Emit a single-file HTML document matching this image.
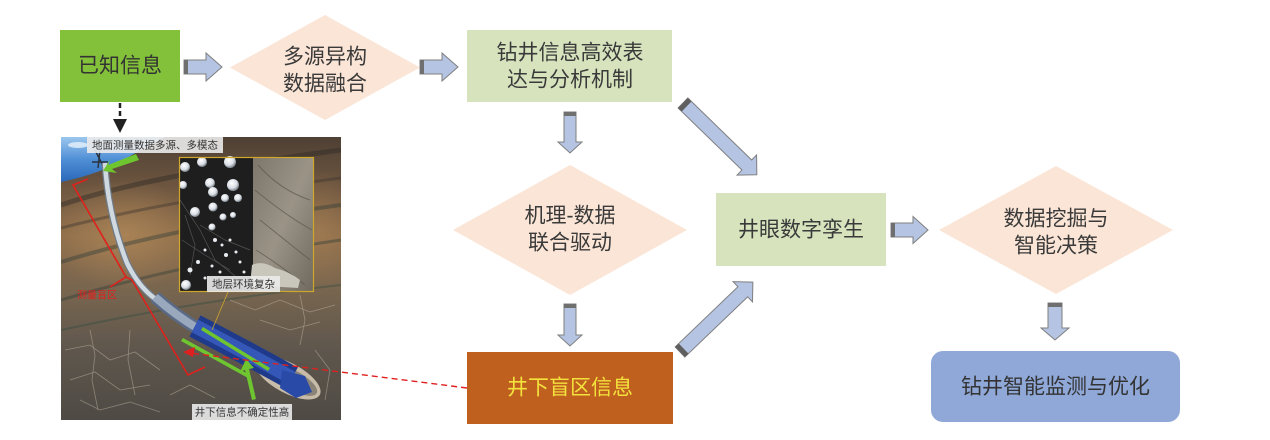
<!DOCTYPE html>
<html><head><meta charset="utf-8">
<style>
html,body{margin:0;padding:0;background:#fff;}
svg{display:block;}
text{font-family:"Liberation Sans","Noto Sans CJK SC",sans-serif;}
</style></head>
<body>
<svg width="1270" height="440" viewBox="0 0 1270 440" xmlns="http://www.w3.org/2000/svg">
<defs>
  <linearGradient id="earth" x1="0" y1="0" x2="0" y2="1">
    <stop offset="0" stop-color="#4e4034"/>
    <stop offset="0.18" stop-color="#6e5640"/>
    <stop offset="0.35" stop-color="#8c6c4a"/>
    <stop offset="0.55" stop-color="#77654f"/>
    <stop offset="0.75" stop-color="#5f574d"/>
    <stop offset="1" stop-color="#4e4a44"/>
  </linearGradient>
  <radialGradient id="tan" cx="0.5" cy="0.5" r="0.5">
    <stop offset="0" stop-color="#b08858" stop-opacity="0.8"/>
    <stop offset="1" stop-color="#b08858" stop-opacity="0"/>
  </radialGradient>
  <linearGradient id="sky" x1="0" y1="0" x2="0" y2="1">
    <stop offset="0" stop-color="#9cc6ee"/>
    <stop offset="0.5" stop-color="#4f8fd6"/>
    <stop offset="1" stop-color="#2a68b8"/>
  </linearGradient>
  <linearGradient id="rock" x1="0" y1="0" x2="1" y2="1">
    <stop offset="0" stop-color="#7d776c"/>
    <stop offset="0.5" stop-color="#9a9386"/>
    <stop offset="1" stop-color="#6f695f"/>
  </linearGradient>
  <radialGradient id="ball" cx="0.4" cy="0.35" r="0.6">
    <stop offset="0" stop-color="#ffffff"/>
    <stop offset="0.7" stop-color="#d8dde4"/>
    <stop offset="1" stop-color="#8a9098"/>
  </radialGradient>
  <clipPath id="imgclip"><rect x="61" y="137" width="280" height="283"/></clipPath>
</defs>

<!-- ===== Photo panel ===== -->
<g clip-path="url(#imgclip)">
  <rect x="61" y="137" width="280" height="283" fill="url(#earth)"/>
  <ellipse cx="125" cy="235" rx="80" ry="55" fill="url(#tan)"/>
  <ellipse cx="320" cy="230" rx="40" ry="60" fill="url(#tan)" opacity="0.6"/>
  <!-- strata bands -->
  <path d="M61,205 Q150,175 341,150" stroke="#2f2a26" stroke-width="5" fill="none" opacity="0.45"/>
  <path d="M61,228 Q170,200 341,178" stroke="#3a332c" stroke-width="3" fill="none" opacity="0.4"/>
  <path d="M61,262 Q170,228 341,205" stroke="#2a3a36" stroke-width="4" fill="none" opacity="0.4"/>
  <path d="M61,300 Q190,262 341,240" stroke="#2c3c38" stroke-width="3" fill="none" opacity="0.4"/>
  <path d="M61,330 Q200,300 341,285" stroke="#2f4a40" stroke-width="2" fill="none" opacity="0.4"/>
  <!-- cracks -->
  <g stroke="#cfc6b4" stroke-width="0.8" fill="none" opacity="0.45">
    <path d="M65,350 L90,345 L110,360 L135,352 L160,370"/>
    <path d="M70,380 L95,372 L120,390 L150,385"/>
    <path d="M80,400 L100,410 L130,402 L160,412"/>
    <path d="M90,330 L95,355 L92,380 L98,410"/>
    <path d="M130,330 L128,360 L135,395"/>
    <path d="M230,300 L255,310 L280,300 L310,312 L335,305"/>
    <path d="M260,320 L290,330 L320,322"/>
    <path d="M300,295 L305,320 L300,345"/>
    <path d="M315,350 L330,370 L325,400"/>
    <path d="M170,395 L190,385 L215,398"/>
  </g>
  <!-- sky -->
  <path d="M61,137 H165 Q140,150 120,162 Q95,175 61,182 Z" fill="url(#sky)"/>
  <ellipse cx="78" cy="145" rx="10" ry="3" fill="#e8f2fb" opacity="0.8"/>
  <path d="M95,150 L104,168 M100,150 L98,168 M92,162 L108,162" stroke="#2a3440" stroke-width="1.5"/>
  <!-- borehole around bit -->
  <ellipse cx="288" cy="378" rx="36" ry="15" transform="rotate(28 288 378)" fill="#d4c8b2" opacity="0.9"/>
  <ellipse cx="292" cy="380" rx="28" ry="10" transform="rotate(28 292 380)" fill="#8a8478"/>
  <!-- drill string -->
  <path d="M105,163 Q108,215 127,263 Q140,290 160,302" stroke="#6e7a86" stroke-width="7" fill="none"/>
  <path d="M105,163 Q108,215 127,263 Q140,290 160,302" stroke="#d0d8e0" stroke-width="4.5" fill="none"/>
  <path d="M155,297 Q175,315 200,330" stroke="#5a6a86" stroke-width="13" fill="none"/>
  <path d="M155,297 Q175,315 200,330" stroke="#9aa8be" stroke-width="8" fill="none"/>
  <path d="M195,326 Q245,352 292,378" stroke="#1f3a8a" stroke-width="24" fill="none"/>
  <path d="M195,326 Q245,352 292,378" stroke="#3558b8" stroke-width="14" fill="none"/>
  <path d="M282,370 L305,376 L312,392 L296,398 L280,388 Z" fill="#2a4aa8"/>
  <!-- green arrows -->
  <g fill="#6ec530" stroke="none">
    <path d="M136,154 L108,165 L111,158 L103,171 L117,173 L112,169 L139,160 Z"/>
    <path d="M203,327 L270,368 L268,371 L201,330 Z"/>
    <path d="M183,338 L250,375 L248,378 L181,341 Z"/>
    <path d="M252,400 L245,370 L240,372 L246,359 L254,368 L249,369 L256,399 Z"/>
  </g>
  <!-- inset photo -->
  <rect x="179" y="157" width="74" height="135" fill="#1e1e1e"/>
  <rect x="253" y="157" width="60" height="135" fill="url(#rock)"/>
  <g stroke="#5c564c" stroke-width="1" fill="none" opacity="0.7">
    <path d="M258,165 Q280,190 310,200"/><path d="M255,190 Q285,215 312,230"/>
    <path d="M260,220 Q285,240 310,260"/><path d="M256,250 Q280,265 305,285"/>
  </g>
  <g stroke="#6a6a6a" stroke-width="0.7" fill="none" opacity="0.7">
    <path d="M180,200 L200,230 L215,260 L240,280"/><path d="M182,240 L205,255 L230,270"/>
    <path d="M185,215 L195,245 L190,275"/><path d="M200,225 L225,240 L250,250"/>
  </g>
  <path d="M250,285 L252,265 Q262,260 275,268 Q290,272 300,280 L298,288 Z" fill="#c9c6bc"/>
  <g fill="url(#ball)">
    <circle cx="185" cy="167" r="5"/><circle cx="202" cy="162" r="5"/><circle cx="230" cy="162" r="6"/>
    <circle cx="183" cy="185" r="4"/><circle cx="210" cy="183" r="5"/><circle cx="233" cy="185" r="6"/>
    <circle cx="213" cy="192" r="5"/><circle cx="225" cy="198" r="4"/><circle cx="238" cy="198" r="4"/>
    <circle cx="213" cy="207" r="4.5"/><circle cx="195" cy="212" r="5"/><circle cx="223" cy="217" r="3.5"/>
    <circle cx="233" cy="215" r="3"/><circle cx="212" cy="227" r="3.5"/><circle cx="186" cy="285" r="5"/>
  </g>
  <g fill="#e8ecf0">
    <circle cx="215" cy="240" r="2"/><circle cx="222" cy="245" r="1.5"/><circle cx="230" cy="240" r="1.5"/>
    <circle cx="205" cy="250" r="1.5"/><circle cx="226" cy="255" r="2"/><circle cx="236" cy="252" r="1.5"/>
    <circle cx="198" cy="262" r="2"/><circle cx="212" cy="266" r="1.5"/><circle cx="240" cy="262" r="1.5"/>
    <circle cx="190" cy="270" r="2.5"/><circle cx="220" cy="272" r="1.5"/><circle cx="205" cy="278" r="1.5"/>
    <circle cx="244" cy="272" r="1.5"/><circle cx="232" cy="280" r="1.5"/>
  </g>
  <rect x="179.5" y="157.5" width="134" height="134" fill="none" stroke="#cfa72a" stroke-width="1.2"/>
  <line x1="228" y1="292" x2="212" y2="330" stroke="#cfa72a" stroke-width="0.8"/>
  <!-- red bracket -->
  <polyline points="88,179 73,185 126,277 110,287 126,277 132,280 188,375 205,367" fill="none" stroke="#e0201c" stroke-width="1.6"/>
  <text x="97" y="296" font-size="10" fill="#e0201c" text-anchor="middle" dominant-baseline="central">测量盲区</text>
  <!-- labels -->
  <rect x="87" y="137" width="136" height="16" fill="#ebebeb" opacity="0.9"/>
  <text x="155" y="145.5" font-size="10.5" fill="#333" text-anchor="middle" dominant-baseline="central">地面测量数据多源、多模态</text>
  <rect x="207" y="276" width="73" height="16" fill="#ebebeb" opacity="0.9"/>
  <text x="243.5" y="284.5" font-size="10.5" fill="#333" text-anchor="middle" dominant-baseline="central">地层环境复杂</text>
  <rect x="192" y="404" width="100" height="16" fill="#ebebeb" opacity="0.9"/>
  <text x="242" y="412.5" font-size="10.5" fill="#333" text-anchor="middle" dominant-baseline="central">井下信息不确定性高</text>
</g>

<!-- red dashed arrow from 井下盲区信息 -->
<line x1="467" y1="388" x2="190" y2="353" stroke="#e02020" stroke-width="1.4" stroke-dasharray="6,4"/>
<path d="M183,352 L195,347 L193,357 Z" fill="#e02020"/>

<!-- ===== Nodes ===== -->
<rect x="60" y="30" width="120" height="72" fill="#83c13a"/>
<text x="120" y="66" font-size="21" fill="#333" text-anchor="middle" dominant-baseline="central">已知信息</text>

<!-- dashed black arrow -->
<line x1="120" y1="103" x2="120" y2="119" stroke="#222" stroke-width="2.5" stroke-dasharray="5,3"/>
<path d="M113,119 L127,119 L120,133 Z" fill="#222"/>

<polygon points="325,15 420,67.5 325,120 230,67.5" fill="#fbe5d6"/>
<text x="325" y="57" font-size="21" fill="#3a3a3a" text-anchor="middle" dominant-baseline="central">多源异构</text>
<text x="325" y="84" font-size="21" fill="#3a3a3a" text-anchor="middle" dominant-baseline="central">数据融合</text>

<rect x="467" y="30" width="205" height="72" fill="#d6e3bd"/>
<text x="570" y="53" font-size="21" fill="#3a3a3a" text-anchor="middle" dominant-baseline="central">钻井信息高效表</text>
<text x="570" y="80" font-size="21" fill="#3a3a3a" text-anchor="middle" dominant-baseline="central">达与分析机制</text>

<polygon points="570,165 687,230 570,295 453,230" fill="#fbe5d6"/>
<text x="570" y="216" font-size="21" fill="#3a3a3a" text-anchor="middle" dominant-baseline="central">机理-数据</text>
<text x="570" y="243" font-size="21" fill="#3a3a3a" text-anchor="middle" dominant-baseline="central">联合驱动</text>

<rect x="467" y="352" width="206" height="72" fill="#c0601f"/>
<text x="570" y="388" font-size="21" fill="#f3e23c" text-anchor="middle" dominant-baseline="central">井下盲区信息</text>

<rect x="716" y="193" width="170" height="73" fill="#d6e3bd"/>
<text x="801" y="230" font-size="21" fill="#3a3a3a" text-anchor="middle" dominant-baseline="central">井眼数字孪生</text>

<polygon points="1056,166 1173,230 1056,294 939,230" fill="#fbe5d6"/>
<text x="1056" y="219" font-size="21" fill="#3a3a3a" text-anchor="middle" dominant-baseline="central">数据挖掘与</text>
<text x="1056" y="246" font-size="21" fill="#3a3a3a" text-anchor="middle" dominant-baseline="central">智能决策</text>

<rect x="931" y="351" width="249" height="71" rx="12" ry="12" fill="#8fa8d8"/>
<text x="1055.5" y="387" font-size="21" fill="#333" text-anchor="middle" dominant-baseline="central">钻井智能监测与优化</text>

<!-- ===== Block arrows ===== -->
<g fill="#b4c4e2" stroke="#7f7f7f" stroke-width="1">
  <g transform="translate(184,67)">
    <path d="M0,-7 L22,-7 L22,-14 L38,0 L22,14 L22,7 L0,7 Z"/>
    <rect x="0" y="-7" width="4" height="14" fill="#6f6f6f" stroke="none"/>
  </g>
  <g transform="translate(420,67)">
    <path d="M0,-7 L22,-7 L22,-14 L38,0 L22,14 L22,7 L0,7 Z"/>
    <rect x="0" y="-7" width="4" height="14" fill="#6f6f6f" stroke="none"/>
  </g>
  <g transform="translate(891,230)">
    <path d="M0,-7 L22,-7 L22,-13.5 L37,0 L22,13.5 L22,7 L0,7 Z"/>
    <rect x="0" y="-7" width="4" height="14" fill="#6f6f6f" stroke="none"/>
  </g>
  <g transform="translate(570,112) rotate(90)">
    <path d="M0,-6 L30,-6 L30,-12 L41,0 L30,12 L30,6 L0,6 Z"/>
    <rect x="0" y="-6" width="4" height="12" fill="#6f6f6f" stroke="none"/>
  </g>
  <g transform="translate(570,304) rotate(90)">
    <path d="M0,-6 L31,-6 L31,-12 L42,0 L31,12 L31,6 L0,6 Z"/>
    <rect x="0" y="-6" width="4" height="12" fill="#6f6f6f" stroke="none"/>
  </g>
  <g transform="translate(1055,303) rotate(90)">
    <path d="M0,-7 L25,-7 L25,-14 L37,0 L25,14 L25,7 L0,7 Z"/>
    <rect x="0" y="-7" width="4" height="14" fill="#6f6f6f" stroke="none"/>
  </g>
  <g transform="translate(683,103) rotate(44.2)">
    <path d="M0,-7 L89,-7 L89,-14 L103,0 L89,14 L89,7 L0,7 Z"/>
    <rect x="0" y="-7" width="5" height="14" fill="#5f5f5f" stroke="none"/>
  </g>
  <g transform="translate(680,352) rotate(-43.8)">
    <path d="M0,-7 L87,-7 L87,-14 L101,0 L87,14 L87,7 L0,7 Z"/>
    <rect x="0" y="-7" width="5" height="14" fill="#5f5f5f" stroke="none"/>
  </g>
</g>
</svg>
</body></html>
